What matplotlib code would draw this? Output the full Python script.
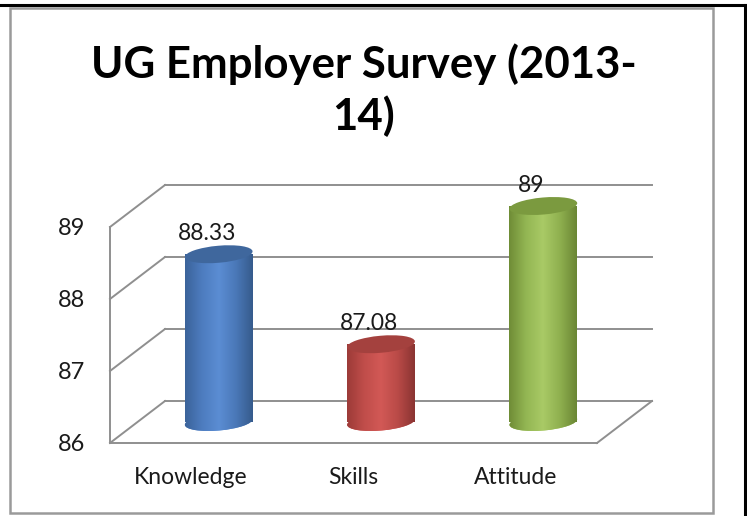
import numpy as np
import matplotlib
matplotlib.use("Agg")
import matplotlib.pyplot as plt
from matplotlib.patches import Ellipse, Rectangle
from matplotlib.transforms import ScaledTranslation
from matplotlib.colors import LinearSegmentedColormap

categories = ["Knowledge", "Skills", "Attitude"]
values = [88.33, 87.08, 89]
value_labels = ["88.33", "87.08", "89"]
yticks = [86, 87, 88, 89]
title = "UG Employer Survey (2013-\n14)"

# styling
body_cols = [
    ["#3b639a", "#4d7cbf", "#5b8dd3", "#4a78b8", "#365b8c"],
    ["#9c3b38", "#c04d4a", "#d25956", "#b94a47", "#8a3432"],
    ["#6f8c36", "#93b653", "#a9ca66", "#8fb04f", "#6a8634"],
]
top_cols = ["#3f679d", "#a4413e", "#7b9a3f"]
grid_col = "#8f8f8f"
plt.rcParams['font.family'] = ['Lato', 'DejaVu Sans']

W, H, DPI = 7.47, 5.16, 100
fig = plt.figure(figsize=(W, H), dpi=DPI)
fig.patch.set_facecolor("white")

# outer frames
fig.add_artist(plt.Line2D([0, 745 / 747], [1 - 5 / 516, 1 - 5 / 516], color="black", lw=2.2,
                          transform=fig.transFigure))
fig.add_artist(plt.Line2D([745 / 747, 745 / 747], [0, 1 - 5 / 516], color="black", lw=2.2,
                          transform=fig.transFigure))
fig.add_artist(Rectangle((10 / 747, 1 - 513 / 516), 703 / 747, 505 / 516, fill=False,
                         edgecolor="#9a9a9a", lw=1.8, transform=fig.transFigure))

# front plane axes
ax = fig.add_axes([110 / 747, (516 - 443) / 516, 487 / 747, (443 - 227) / 516])
ax.set_xlim(-0.5, 2.5)
ax.set_ylim(86, 89)
for s in ax.spines.values():
    s.set_visible(False)
ax.patch.set_alpha(0)

DX = 55 / (487 / 3)
DY = 42 / (216 / 3)

lw = 1.4
for v in yticks:
    ax.plot([-0.5 + DX, 2.5 + DX], [v + DY, v + DY], color=grid_col, lw=lw, clip_on=False, zorder=1)
    ax.plot([-0.5, -0.5 + DX], [v, v + DY], color=grid_col, lw=lw, clip_on=False, zorder=1)
ax.plot([-0.5, -0.5], [86, 89], color=grid_col, lw=lw, clip_on=False, zorder=1)
ax.plot([-0.5, 2.5], [86, 86], color=grid_col, lw=lw, clip_on=False, zorder=1)
ax.plot([2.5, 2.5 + DX], [86, 86 + DY], color=grid_col, lw=lw, clip_on=False, zorder=1)

ax.set_yticks(yticks)
ax.set_yticklabels([str(t) for t in yticks], fontsize=17, color="#1a1a1a")
ax.set_xticks(range(len(categories)))
ax.set_xticklabels(categories, fontsize=16.5, color="#1a1a1a")
ax.tick_params(axis="y", length=0, pad=18)
ax.tick_params(axis="x", length=0, pad=17)

bw = 68 / (487 / 3)
ell_w, ell_h, ell_ang = 0.68, 0.17, 5
grad = np.linspace(0, 1, 256).reshape(1, -1)
for i, v in enumerate(values):
    cx = i + DX / 2
    base = 86 + DY / 2
    top = v + DY / 2
    cmap = LinearSegmentedColormap.from_list("c%d" % i, body_cols[i])
    bars = ax.bar([cx], [v - 86], bottom=base, width=bw, color=body_cols[i][2], zorder=3,
                  clip_on=False, linewidth=0)
    rect = bars[0]
    bot_e = Ellipse((0, 0), ell_w, ell_h, angle=ell_ang, facecolor=body_cols[i][2], lw=0,
                    transform=fig.dpi_scale_trans + ScaledTranslation(cx, base, ax.transData),
                    zorder=3, clip_on=False)
    ax.add_patch(bot_e)
    for clipper in (rect, bot_e):
        im = ax.imshow(grad, cmap=cmap, aspect="auto", extent=[cx - bw / 2, cx + bw / 2, 85.7, top],
                       zorder=4, interpolation="bilinear")
        im.set_clip_path(clipper)
    top_e = Ellipse((0, 0), ell_w, ell_h, angle=ell_ang, facecolor=top_cols[i], lw=0,
                    transform=fig.dpi_scale_trans + ScaledTranslation(cx, top, ax.transData),
                    zorder=5, clip_on=False)
    ax.add_patch(top_e)
    ax.annotate(value_labels[i], (cx, top), xytext=(-12 * 0.72, 15), textcoords="offset points",
                ha="center", va="center", fontsize=16.5, color="#1a1a1a", zorder=6,
                annotation_clip=False)

ax.set_xlim(-0.5, 2.5)
ax.set_ylim(86, 89)

fig.text(364 / 747, 1 - 90 / 516, title, ha="center", va="center", fontsize=31.5,
         fontweight="bold", color="black", linespacing=1.3)

fig.savefig("out.png", dpi=DPI, facecolor="white")
